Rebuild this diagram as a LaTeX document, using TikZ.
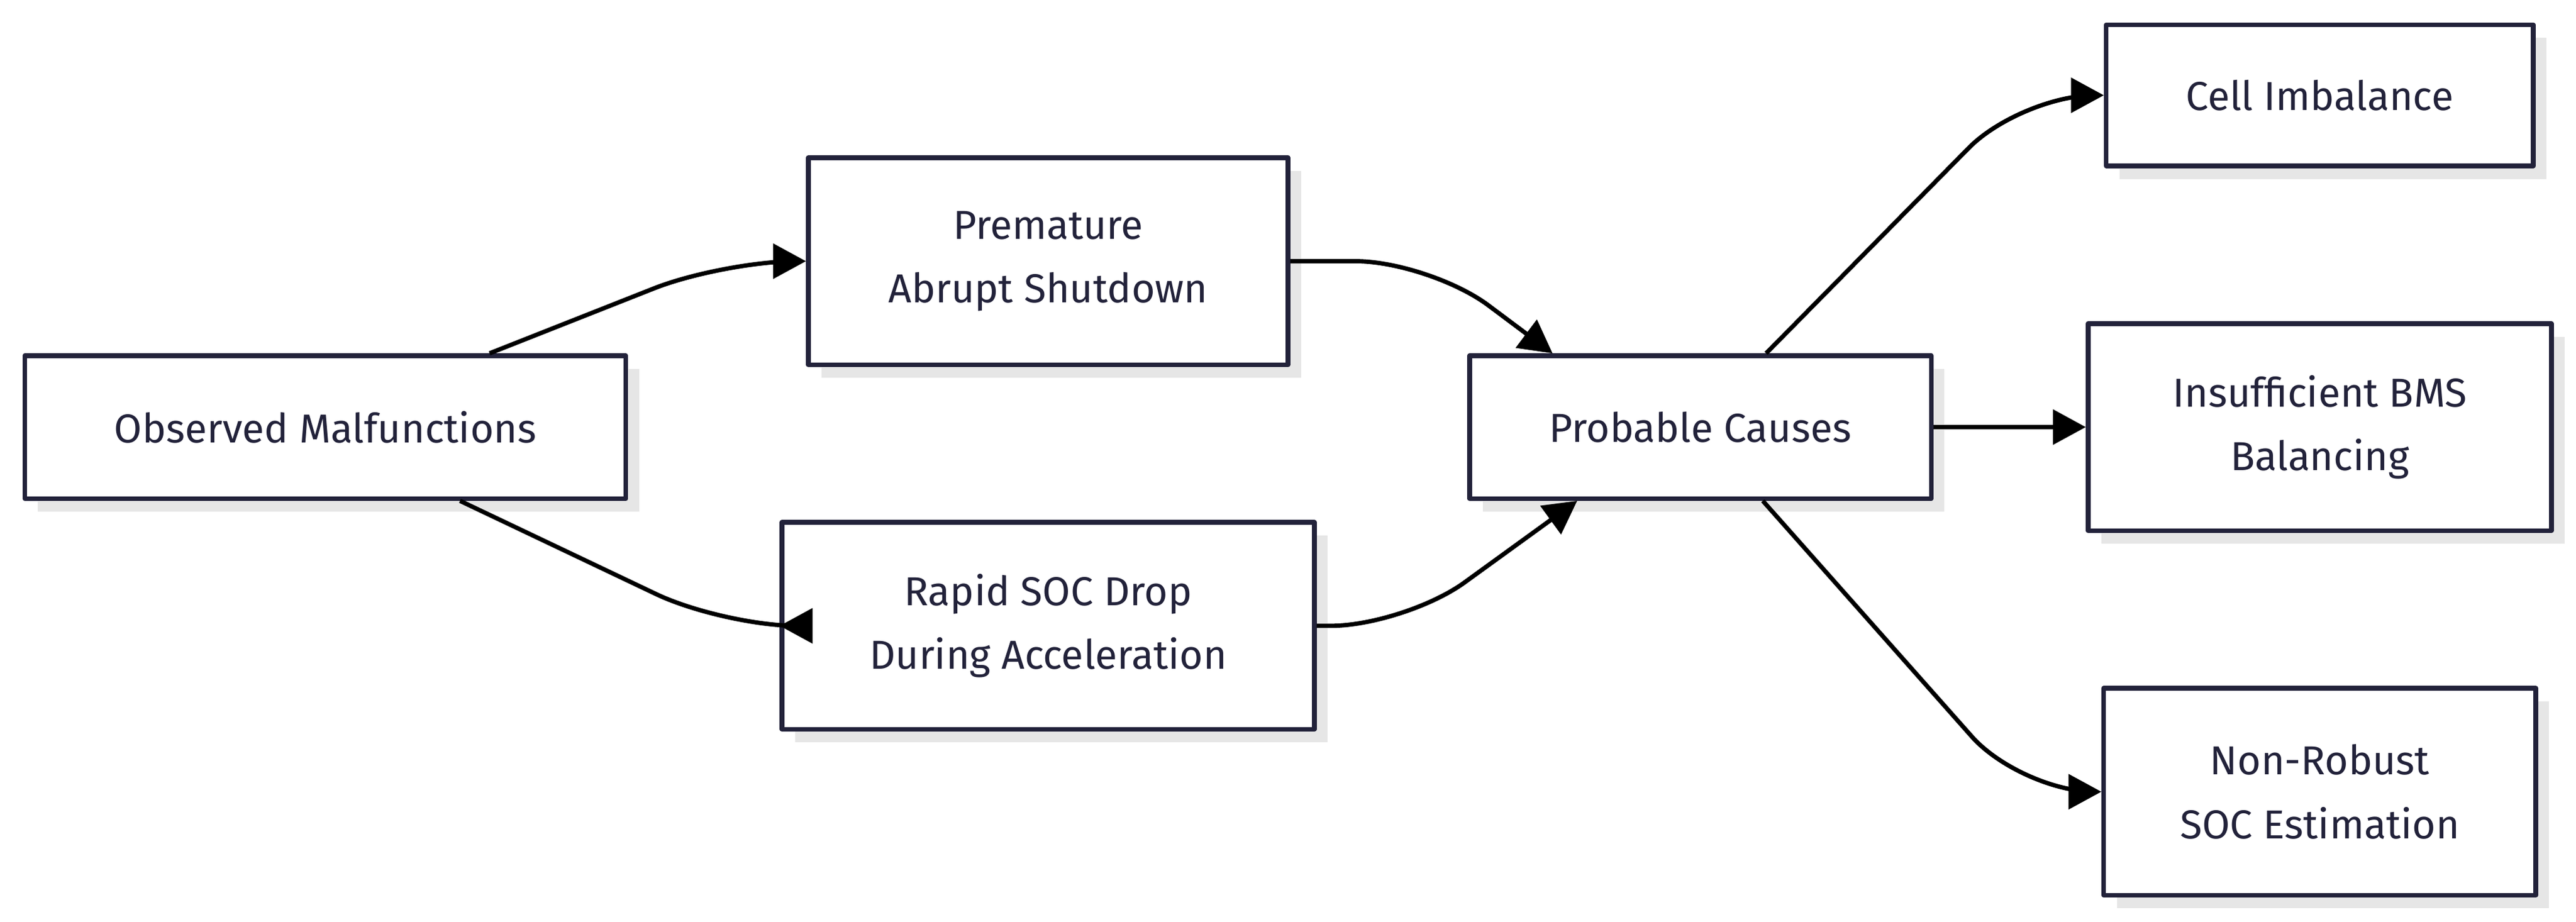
\documentclass[tikz,border=0pt]{standalone}
\usepackage{fontspec}
\setmainfont{Fira Sans}
\usetikzlibrary{arrows.meta,shadows}
\definecolor{ink}{HTML}{22223A}
\definecolor{shade}{HTML}{E6E6E6}
\tikzset{
  box/.style={draw=ink,line width=1.6pt,fill=white,text=ink,align=center,
    font=\fontsize{14}{22}\selectfont,inner sep=0pt,
    drop shadow={shadow xshift=0.16cm,shadow yshift=-0.16cm,fill=shade,opacity=1}},
  link/.style={draw=black,line width=1.5pt,rounded corners=0.9cm,-{Triangle[length=0.4cm,width=0.42cm]}}
}
\begin{document}
\begin{tikzpicture}[line join=round]
\useasboundingbox (0,0) rectangle (31.36,-11.22);
\node[box,minimum width=7.32cm,minimum height=1.74cm] (obs) at (3.96,-5.2) {Observed Malfunctions};
\node[box,minimum width=5.84cm,minimum height=2.52cm] (prem) at (12.76,-3.18) {Premature\\Abrupt Shutdown};
\node[box,minimum width=6.48cm,minimum height=2.52cm] (rapid) at (12.76,-7.62) {Rapid SOC Drop\\During Acceleration};
\node[box,minimum width=5.62cm,minimum height=1.74cm] (cause) at (20.7,-5.2) {Probable Causes};
\node[box,minimum width=5.2cm,minimum height=1.72cm] (cell) at (28.24,-1.16) {Cell Imbalance};
\node[box,minimum width=5.64cm,minimum height=2.52cm] (bms) at (28.24,-5.2) {Insufficient BMS\\Balancing};
\node[box,minimum width=5.26cm,minimum height=2.52cm] (soc) at (28.24,-9.64) {Non-Robust\\SOC Estimation};

\draw[link] ([xshift=2cm]obs.north) -- (8.8,-3.18) -- (prem.west);
\draw[link] ([xshift=1.64cm]obs.south) -- (8.8,-7.62) -- (rapid.west);
\draw[link] (prem.east) -- (17.4,-3.18) -- ([xshift=-1.8cm]cause.north);
\draw[link] (rapid.east) -- (17.1,-7.62) -- ([xshift=-1.5cm]cause.south);
\draw[link] ([xshift=0.8cm]cause.north) -- (24.6,-1.16) -- (cell.west);
\draw[link] (cause.east) -- (bms.west);
\draw[link] ([xshift=0.76cm]cause.south) -- (24.6,-9.64) -- (soc.west);
\end{tikzpicture}
\end{document}
